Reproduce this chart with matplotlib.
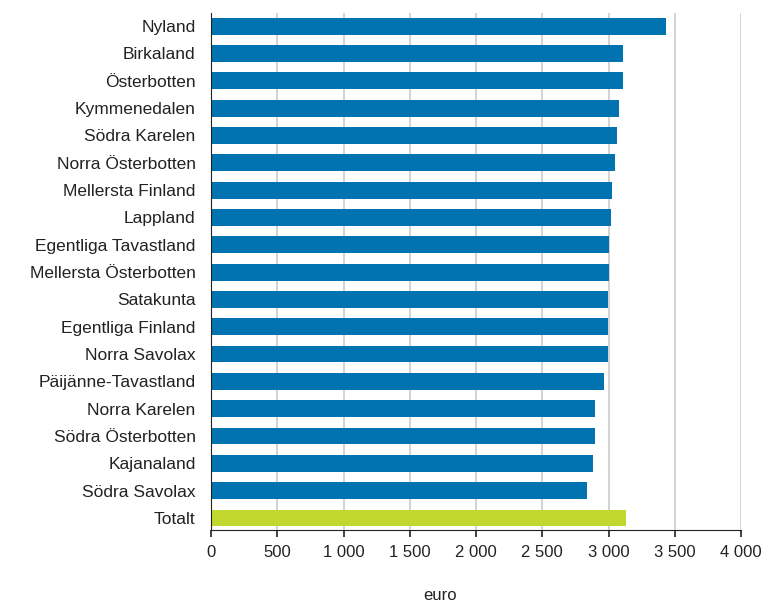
import matplotlib.pyplot as plt
from matplotlib.ticker import FuncFormatter

plt.rcParams['font.family'] = ['Liberation Sans', 'DejaVu Sans']

# regions, top to bottom
regions = ['Nyland', 'Birkaland', 'Österbotten', 'Kymmenedalen', 'Södra Karelen',
           'Norra Österbotten', 'Mellersta Finland', 'Lappland', 'Egentliga Tavastland',
           'Mellersta Österbotten', 'Satakunta', 'Egentliga Finland', 'Norra Savolax',
           'Päijänne-Tavastland', 'Norra Karelen', 'Södra Österbotten', 'Kajanaland',
           'Södra Savolax', 'Totalt']
values = [3435, 3112, 3112, 3077, 3062, 3052, 3027, 3017, 3002, 3002,
          2995, 2995, 2995, 2965, 2898, 2898, 2883, 2836, 3134]
colors = ['#0073b0'] * 18 + ['#c2d82e']

fig = plt.figure(figsize=(7.67, 6.03), dpi=100)
ax = fig.add_axes([211/767, 1-530/603, 530/767, 517/603])

pos = list(range(len(regions)))[::-1]
ax.barh(pos, values, height=0.62, color=colors, zorder=2)

ax.set_xlim(0, 4000)
ax.set_ylim(-0.44, len(regions) - 0.52)
ax.set_xticks(range(0, 4001, 500))
ax.xaxis.set_major_formatter(FuncFormatter(lambda v, p: f'{int(v):,}'.replace(',', ' ')))
ax.set_yticks(pos)
ax.set_yticklabels(regions)
ax.tick_params(axis='y', length=0, labelsize=12.5, pad=11, colors='#222222')
ax.tick_params(axis='x', length=5, width=1.2, labelsize=12, pad=6, colors='#222222')
ax.grid(axis='x', color='#cccccc', linewidth=1.2, zorder=0)

for s in ['top', 'right']:
    ax.spines[s].set_visible(False)
ax.spines['left'].set_color('#222222')
ax.spines['bottom'].set_color('#222222')

fig.text(440/767, 1-595/603, 'euro', fontsize=12, color='#222222', ha='center', va='center')

plt.savefig('out.png', dpi=100)
